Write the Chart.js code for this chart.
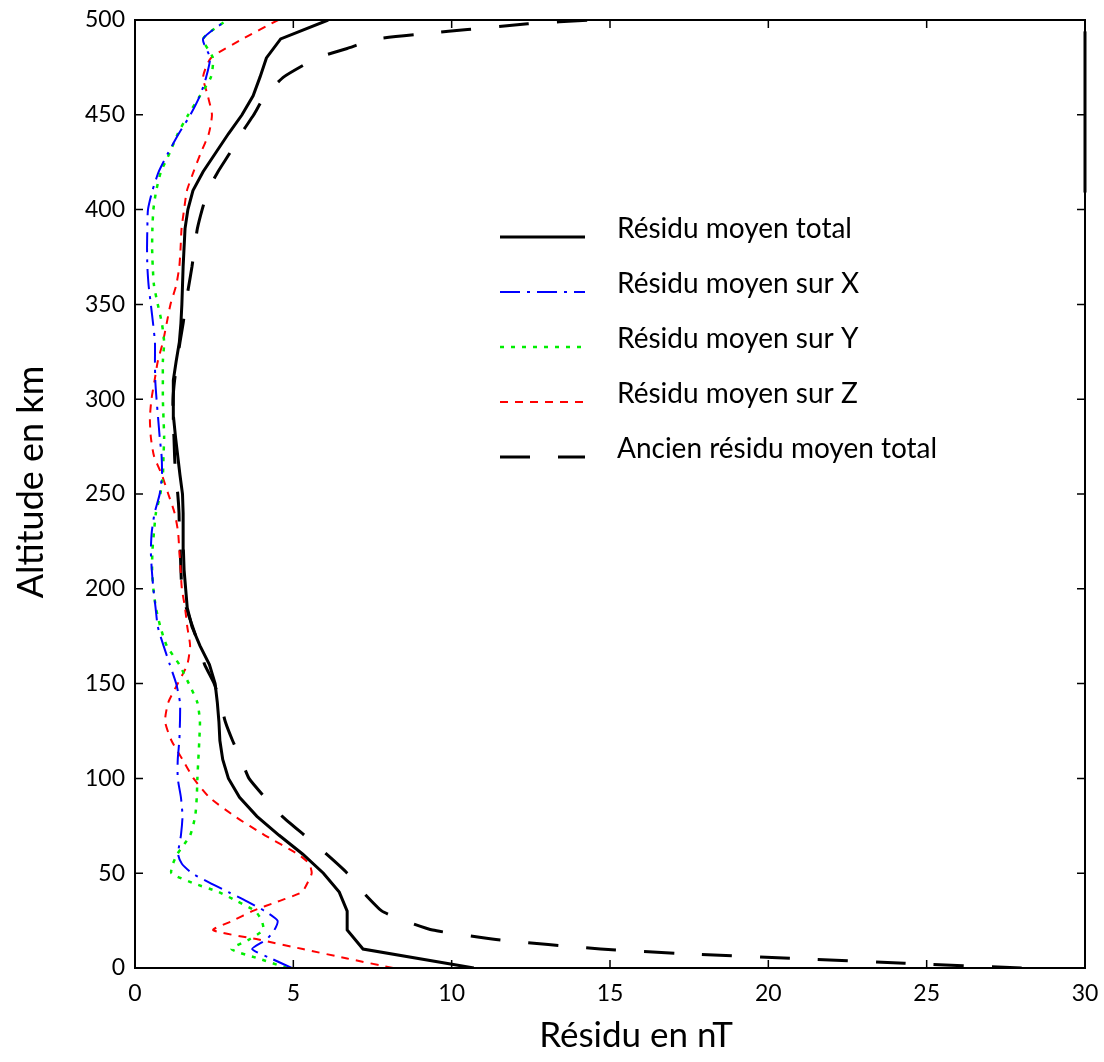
<!DOCTYPE html>
<html>
<head>
<meta charset="utf-8">
<script src="https://cdn.jsdelivr.net/npm/chart.js@4.4.1/dist/chart.umd.min.js"></script>
<style>
  html, body { margin: 0; background: #fff; }
</style>
</head>
<body>
<canvas id="graphe" width="1104" height="1062"></canvas>
<script>
// altitudes (km) et residus (nT)
const altTotal = [0,10,20,30,40,50,60,70,80,90,100,110,120,130,140,150,160,170,180,190,200,210,220,230,240,250,260,270,280,290,300,310,320,330,340,350,360,370,380,390,400,410,420,430,440,450,460,470,480,490,500];
const residuTotal = [10.7,7.2,6.7,6.7,6.45,5.95,5.3,4.55,3.85,3.3,2.95,2.77,2.68,2.65,2.6,2.53,2.35,2.05,1.8,1.65,1.6,1.55,1.53,1.52,1.52,1.5,1.42,1.35,1.28,1.22,1.2,1.22,1.3,1.4,1.45,1.48,1.5,1.52,1.55,1.58,1.67,1.83,2.15,2.55,2.95,3.38,3.73,3.95,4.15,4.6,6.1];

const altXYZ = [0,5,10,15,20,25,30,35,40,45,50,55,60,70,80,90,100,110,120,130,140,150,160,170,180,190,200,210,220,230,240,250,260,270,280,290,300,310,320,330,340,350,360,370,380,390,400,410,420,430,440,450,460,470,480,490,500];
const residuX = [4.95,4.3,3.7,4.15,4.4,4.5,4.1,3.55,2.95,2.35,1.8,1.48,1.36,1.45,1.5,1.45,1.35,1.35,1.4,1.42,1.42,1.3,1.1,0.9,0.72,0.65,0.58,0.53,0.5,0.53,0.62,0.78,0.85,0.84,0.78,0.73,0.68,0.64,0.63,0.63,0.57,0.5,0.43,0.39,0.38,0.39,0.41,0.55,0.75,1.05,1.38,1.75,2.05,2.25,2.37,2.15,2.9];
const residuY = [4.8,3.9,3.05,3.6,4.05,4.0,3.8,3.25,2.65,1.8,1.15,1.2,1.33,1.74,1.9,1.95,1.97,2.0,2.03,2.05,1.97,1.7,1.4,1.0,0.8,0.66,0.58,0.54,0.55,0.6,0.66,0.8,0.88,0.9,0.92,0.9,0.88,0.88,0.88,0.92,0.85,0.72,0.6,0.56,0.54,0.55,0.58,0.67,0.82,1.1,1.35,1.68,2.05,2.4,2.46,2.15,2.9];
const residuZ = [8.15,6.7,5.3,3.9,2.47,3.1,3.7,4.5,5.27,5.45,5.58,5.5,5.15,4.1,3.15,2.35,1.85,1.5,1.15,0.95,1.05,1.35,1.65,1.74,1.65,1.58,1.48,1.44,1.4,1.36,1.25,1.05,0.85,0.6,0.5,0.47,0.52,0.62,0.72,0.88,1.0,1.12,1.3,1.4,1.44,1.47,1.55,1.64,1.85,2.08,2.33,2.43,2.3,2.15,2.4,3.4,4.52];

const altAncien = [0,2.5,5,7.5,10,15,20,25,30,40,50,60,70,80,90,100,110,120,130,140,150,160,170,180,190,200,210,220,230,240,250,260,270,280,290,300,310,320,330,340,350,360,370,380,390,400,410,420,430,440,450,460,470,480,485,490,493,495,498,500];
const residuAncien = [28.0,24.3,20.8,17.4,14.7,11.4,9.4,8.5,7.8,7.2,6.7,6.05,5.35,4.65,4.1,3.6,3.35,3.08,2.85,2.7,2.5,2.2,2.02,1.82,1.62,1.48,1.45,1.43,1.4,1.39,1.35,1.28,1.25,1.23,1.2,1.2,1.25,1.33,1.42,1.52,1.6,1.7,1.8,1.88,1.97,2.12,2.3,2.62,3.0,3.35,3.75,4.1,4.7,5.75,6.7,7.6,9.3,10.5,12.4,14.4];

// trait vertical sur le bord droit
const altBord = [409, 494];
const residuBord = [30, 30];

const police = 'Lato, sans-serif';

function points(alts, vals) {
  return alts.map((a, i) => ({ x: vals[i], y: a }));
}

const donnees = {
  datasets: [
    { label: 'Résidu moyen total', data: points(altTotal, residuTotal), borderColor: '#000', borderWidth: 3, tension: 0 },
    { label: 'Résidu moyen sur X', data: points(altXYZ, residuX), borderColor: '#0000ff', borderWidth: 2, borderDash: [20, 7, 3, 7], tension: 0.2 },
    { label: 'Résidu moyen sur Y', data: points(altXYZ, residuY), borderColor: '#00ee00', borderWidth: 2.5, borderDash: [4, 7], tension: 0.2 },
    { label: 'Résidu moyen sur Z', data: points(altXYZ, residuZ), borderColor: '#ff0000', borderWidth: 2, borderDash: [8, 7], tension: 0.2 },
    { label: 'Ancien résidu moyen total', data: points(altAncien, residuAncien), borderColor: '#000', borderWidth: 3, borderDash: [30, 28], tension: 0.15 },
    { label: '', data: points(altBord, residuBord), borderColor: '#000', borderWidth: 3, clip: false, legende: false }
  ]
};

// cadre, graduations interieures, titres des axes et legende
const cadre = {
  id: 'cadre',
  afterDraw(chart) {
    const { ctx, chartArea: a, scales } = chart;
    ctx.save();
    ctx.strokeStyle = '#000';
    ctx.lineWidth = 1.5;
    const tl = 8;
    scales.x.ticks.forEach(t => {
      const px = scales.x.getPixelForValue(t.value);
      ctx.beginPath();
      ctx.moveTo(px, a.bottom); ctx.lineTo(px, a.bottom - tl);
      ctx.moveTo(px, a.top); ctx.lineTo(px, a.top + tl);
      ctx.stroke();
    });
    scales.y.ticks.forEach(t => {
      const py = scales.y.getPixelForValue(t.value);
      ctx.beginPath();
      ctx.moveTo(a.left, py); ctx.lineTo(a.left + tl, py);
      ctx.moveTo(a.right, py); ctx.lineTo(a.right - tl, py);
      ctx.stroke();
    });
    ctx.lineWidth = 2;
    ctx.strokeRect(a.left, a.top, a.right - a.left, a.bottom - a.top);

    // titres
    ctx.fillStyle = '#000';
    ctx.textAlign = 'center';
    ctx.textBaseline = 'alphabetic';
    ctx.font = '35px ' + police;
    ctx.fillText('Résidu en nT', 636, 1047);
    ctx.save();
    ctx.translate(43, 482);
    ctx.rotate(-Math.PI / 2);
    ctx.font = '36px ' + police;
    ctx.fillText('Altitude en km', 0, 0);
    ctx.restore();

    // legende
    const x0 = 500, x1 = 585, xt = 617, y0 = 237, dy = 55;
    ctx.font = '28px ' + police;
    ctx.textAlign = 'left';
    chart.data.datasets.filter(d => d.legende !== false).forEach((d, i) => {
      const y = y0 + i * dy;
      ctx.strokeStyle = d.borderColor;
      ctx.lineWidth = d.borderWidth;
      ctx.setLineDash(d.borderDash || []);
      ctx.beginPath();
      ctx.moveTo(x0, y); ctx.lineTo(x1, y);
      ctx.stroke();
      ctx.setLineDash([]);
      ctx.fillText(d.label, xt, y + 1);
    });
    ctx.restore();
  }
};

new Chart(document.getElementById('graphe'), {
  type: 'scatter',
  data: donnees,
  options: {
    responsive: false,
    animation: false,
    showLine: true,
    elements: { point: { radius: 0 } },
    layout: { padding: { left: 0, top: 20, right: 19, bottom: 0 } },
    plugins: { legend: { display: false }, tooltip: { enabled: false } },
    scales: {
      x: {
        type: 'linear', min: 0, max: 30,
        ticks: { stepSize: 5, color: '#000', font: { size: 23, family: police }, padding: 12 },
        grid: { display: false, drawTicks: false },
        border: { display: false },
        afterFit(s) { s.height = 94; s.paddingLeft = 0; s.paddingRight = 0; }
      },
      y: {
        type: 'linear', min: 0, max: 500,
        ticks: { stepSize: 50, color: '#000', font: { size: 23, family: police }, padding: 10 },
        grid: { display: false, drawTicks: false },
        border: { display: false },
        afterFit(s) { s.width = 135; s.paddingTop = 0; s.paddingBottom = 0; }
      }
    }
  },
  plugins: [cadre]
});
</script>
</body>
</html>
